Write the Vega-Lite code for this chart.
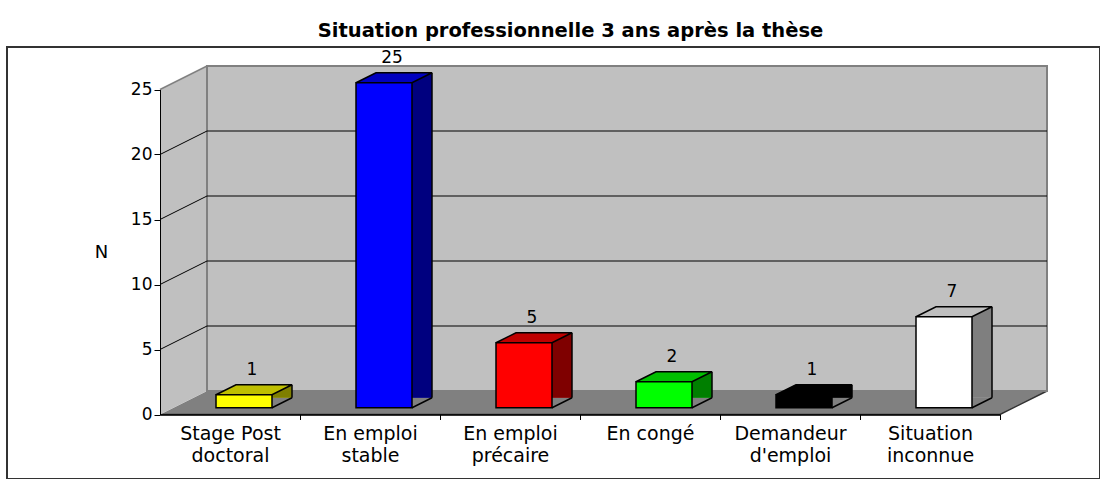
{
  "$schema": "https://vega.github.io/schema/vega-lite/v6.json",
  "width": 1093,
  "height": 432,
  "autosize": {"type": "none"},
  "padding": {"left": 7, "top": 47, "right": 0, "bottom": 0},
  "background": "white",
  "config": {"view": {"stroke": "#333333", "strokeWidth": 2}, "font": "DejaVu Sans"},
  "title": {"text": "Situation professionnelle 3 ans après la thèse", "font": "DejaVu Sans", "fontSize": 19.5, "fontWeight": "bold", "color": "black", "anchor": "middle", "frame": "group", "baseline": "alphabetic", "offset": 17, "dx": 17, "dy": 26},
  "datasets": {
    "counts": [
      {"cat": "Stage Post\ndoctoral", "n": 1},
      {"cat": "En emploi\nstable", "n": 25},
      {"cat": "En emploi\nprécaire", "n": 5},
      {"cat": "En congé", "n": 2},
      {"cat": "Demandeur\nd'emploi", "n": 1},
      {"cat": "Situation\ninconnue", "n": 7}
    ],
    "grid": [{"v": 5}, {"v": 10}, {"v": 15}, {"v": 20}],
    "frame": [{"k": 0}]
  },
  "data": {"name": "counts"},
  "layer": [
    {
      "data": {"name": "frame"},
      "mark": {"type": "point", "shape": "M-70,0 L770,0 L817,-23.5 L-23,-23.5", "size": 4, "filled": true, "fill": "#808080", "stroke": "#333333", "strokeWidth": 1.5, "opacity": 1},
      "encoding": {
        "x": {"datum": "Stage Post\ndoctoral", "type": "nominal"},
        "y": {"datum": 0, "type": "quantitative"}
      }
    },
    {
      "data": {"name": "frame"},
      "mark": {"type": "point", "shape": "M-70,0 L-70,-325 L-23,-348.5 L-23,-23.5 Z", "size": 4, "filled": true, "fill": "#C0C0C0", "strokeWidth": 0, "opacity": 1},
      "encoding": {
        "x": {"datum": "Stage Post\ndoctoral", "type": "nominal"},
        "y": {"datum": 0, "type": "quantitative"}
      }
    },
    {
      "data": {"name": "frame"},
      "mark": {"type": "point", "shape": "M-23,-23.5 L817,-23.5 L817,-348.5 L-23,-348.5 Z", "size": 4, "filled": true, "fill": "#C0C0C0", "stroke": "#808080", "strokeWidth": 2, "opacity": 1},
      "encoding": {
        "x": {"datum": "Stage Post\ndoctoral", "type": "nominal"},
        "y": {"datum": 0, "type": "quantitative"}
      }
    },
    {
      "data": {"name": "frame"},
      "mark": {"type": "point", "shape": "M-70,0 L-23,-23.5", "size": 4, "filled": false, "stroke": "#808080", "strokeWidth": 1.5, "opacity": 1},
      "encoding": {
        "x": {"datum": "Stage Post\ndoctoral", "type": "nominal"},
        "y": {"datum": 25, "type": "quantitative"}
      }
    },
    {
      "data": {"name": "grid"},
      "mark": {"type": "point", "shape": "M-70,0 L-23,-23.5 L817,-23.5", "size": 4, "filled": false, "stroke": "#000000", "strokeWidth": 1, "opacity": 1},
      "encoding": {
        "x": {"datum": "Stage Post\ndoctoral", "type": "nominal"},
        "y": {"field": "v", "type": "quantitative"}
      }
    },
    {
      "mark": {"type": "bar", "width": 20, "xOffset": 52, "yOffset": -16.75, "y2Offset": -6.75, "strokeWidth": 0},
      "encoding": {
        "x": {"field": "cat", "type": "nominal"},
        "y": {"field": "n", "type": "quantitative"},
        "fill": {"field": "cat", "type": "nominal"}
      }
    },
    {
      "mark": {"type": "bar", "width": 20, "xOffset": 52, "yOffset": -16.75, "y2Offset": -6.75, "strokeWidth": 0, "fill": "#000000", "fillOpacity": 0.5},
      "encoding": {
        "x": {"field": "cat", "type": "nominal"},
        "y": {"field": "n", "type": "quantitative"}
      }
    },
    {
      "mark": {"type": "point", "shape": "M42,-6.75 L62,-16.75 L62.5,-16.75 L62.5,-6 L42,-6 Z", "size": 4, "filled": true, "fill": "#808080", "strokeWidth": 0, "opacity": 1},
      "encoding": {
        "x": {"field": "cat", "type": "nominal"},
        "y": {"datum": 0, "type": "quantitative"}
      }
    },
    {
      "mark": {"type": "rule", "xOffset": 62, "yOffset": -16.75, "y2Offset": -16.75, "stroke": "#000000", "strokeWidth": 1.5},
      "encoding": {
        "x": {"field": "cat", "type": "nominal"},
        "y": {"field": "n", "type": "quantitative"},
        "y2": {"datum": 0}
      }
    },
    {
      "mark": {"type": "rule", "xOffset": 42, "x2Offset": 62, "yOffset": -6.75, "y2Offset": -16.75, "stroke": "#000000", "strokeWidth": 1.5},
      "encoding": {
        "x": {"field": "cat", "type": "nominal"},
        "x2": {"field": "cat"},
        "y": {"datum": 0, "type": "quantitative"},
        "y2": {"datum": 0}
      }
    },
    {
      "mark": {"type": "point", "shape": "M-14,-6.75 L42,-6.75 L62,-16.75 L6,-16.75 Z", "size": 4, "filled": true, "strokeWidth": 0, "opacity": 1},
      "encoding": {
        "x": {"field": "cat", "type": "nominal"},
        "y": {"field": "n", "type": "quantitative"},
        "fill": {"field": "cat", "type": "nominal"}
      }
    },
    {
      "mark": {"type": "point", "shape": "M-14,-6.75 L42,-6.75 L62,-16.75 L6,-16.75 Z", "size": 4, "filled": true, "fill": "#000000", "strokeWidth": 0, "opacity": 0.25},
      "encoding": {
        "x": {"field": "cat", "type": "nominal"},
        "y": {"field": "n", "type": "quantitative"}
      }
    },
    {
      "mark": {"type": "point", "shape": "M-14,-6.75 L42,-6.75 L62,-16.75 L6,-16.75 Z", "size": 4, "filled": false, "stroke": "#000000", "strokeWidth": 1.5, "opacity": 1},
      "encoding": {
        "x": {"field": "cat", "type": "nominal"},
        "y": {"field": "n", "type": "quantitative"}
      }
    },
    {
      "mark": {"type": "bar", "xOffset": 14, "yOffset": -6.75, "y2Offset": -6.75, "stroke": "#000000", "strokeWidth": 1.5},
      "encoding": {
        "x": {"field": "cat", "type": "nominal", "sort": null,
          "scale": {"domain": ["Stage Post\ndoctoral", "En emploi\nstable", "En emploi\nprécaire", "En congé", "Demandeur\nd'emploi", "Situation\ninconnue"], "range": [153, 993], "paddingInner": 0.6, "paddingOuter": 0.3},
          "axis": {"title": null, "offset": -64.5, "bandPosition": 1, "tickOffset": 42, "labelOffset": -42, "tickSize": 5, "tickColor": "#000000", "domainColor": "#000000", "domainWidth": 1.5, "labelAngle": 0, "labelAlign": "center", "labelFont": "DejaVu Sans", "labelFontSize": 19, "labelColor": "#000000", "labelPadding": 5, "labelLineHeight": 21.5, "labelBaseline": "top", "labelLimit": 0, "labelExpr": "split(datum.label, '\\n')", "zindex": 1}},
        "y": {"field": "n", "type": "quantitative",
          "scale": {"domain": [0, 25], "range": [367.5, 42.5], "nice": false, "zero": true},
          "axis": {"title": "N", "titleAngle": 0, "titleFont": "DejaVu Sans", "titleFontSize": 18, "titleFontWeight": "normal", "titleColor": "#000000", "titleX": -59, "titleY": 205, "titleAlign": "center", "titleBaseline": "middle", "offset": -153, "values": [0, 5, 10, 15, 20, 25], "grid": false, "domainColor": "#000000", "domainWidth": 1, "tickColor": "#000000", "tickSize": 6, "labelFont": "DejaVu Sans", "labelFontSize": 17, "labelColor": "#000000", "labelPadding": 2, "zindex": 1}},
        "fill": {"field": "cat", "type": "nominal", "legend": null,
          "scale": {"domain": ["Stage Post\ndoctoral", "En emploi\nstable", "En emploi\nprécaire", "En congé", "Demandeur\nd'emploi", "Situation\ninconnue"],
                    "range": ["#FFFF00", "#0000FF", "#FF0000", "#00FF00", "#000000", "#FFFFFF"]}}
      }
    },
    {
      "mark": {"type": "text", "xOffset": 22, "yOffset": -27, "baseline": "alphabetic", "align": "center", "font": "DejaVu Sans", "fontSize": 17, "color": "#000000"},
      "encoding": {
        "x": {"field": "cat", "type": "nominal"},
        "y": {"field": "n", "type": "quantitative"},
        "text": {"field": "n", "type": "quantitative"}
      }
    }
  ]
}
